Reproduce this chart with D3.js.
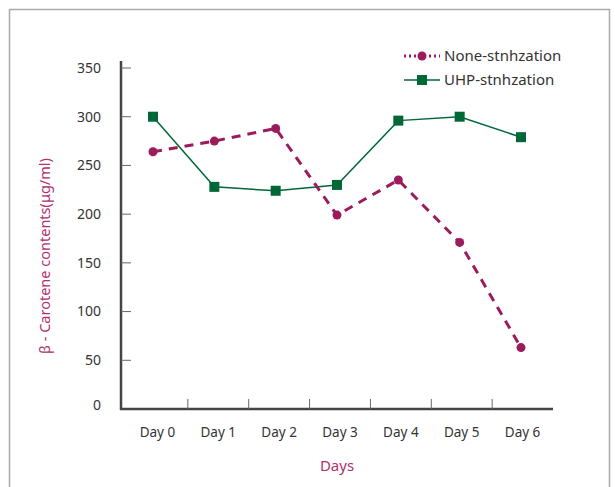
<!DOCTYPE html>
<html>
<head>
<meta charset="utf-8">
<script src="https://cdn.jsdelivr.net/npm/d3@7"></script>
<style>
  body { margin: 0; background: #fff; }
  text { font-family: "Noto Sans", "Noto Sans CJK KR", sans-serif; }
</style>
</head>
<body>
<svg id="chart" width="615" height="487"></svg>
<script>
// data
const days = ["Day 0", "Day 1", "Day 2", "Day 3", "Day 4", "Day 5", "Day 6"];
const noneValues = [264, 275, 288, 199, 235, 171, 63];
const uhpValues = [300, 228, 224, 230, 296, 300, 279];
const yTicks = [0, 50, 100, 150, 200, 250, 300, 350];

const purple = "#9b1b5c", green = "#006837";

const svg = d3.select("#chart");

// outer frame
svg.append("rect")
  .attr("x", 9.5).attr("y", 9.5)
  .attr("width", 600).attr("height", 500)
  .attr("fill", "none")
  .attr("stroke", "#aaa")
  .attr("stroke-width", 1.5);

// scales
const y = d3.scaleLinear().domain([0, 350]).range([409, 68]);
const xBand = d3.scaleBand().domain(days).range([127, 553]);
const x = d3.scalePoint().domain(days).range([153, 521]);

// y axis
const yAxis = svg.append("g").attr("transform", "translate(121,0)");
yAxis.append("line")
  .attr("x1", 0).attr("x2", 0)
  .attr("y1", 61).attr("y2", 410)
  .attr("stroke", "#444").attr("stroke-width", 2.5);
yAxis.selectAll(".tick").data(yTicks.filter(d => d > 0)).join("line")
  .attr("x1", 0).attr("x2", 10)
  .attr("y1", d => y(d)).attr("y2", d => y(d))
  .attr("stroke", "#666").attr("stroke-width", 1);
yAxis.selectAll(".lbl").data(yTicks).join("text")
  .attr("x", -20)
  .attr("y", d => d === 0 ? y(d) - 4 : y(d))
  .attr("dy", "0.35em")
  .attr("text-anchor", "end")
  .attr("font-size", 14)
  .attr("fill", "#333")
  .text(d => d);

// x axis
const xAxis = svg.append("g").attr("transform", "translate(0,409)");
xAxis.append("line")
  .attr("x1", 120).attr("x2", 553)
  .attr("y1", 0).attr("y2", 0)
  .attr("stroke", "#444").attr("stroke-width", 2.5);
xAxis.selectAll(".tick").data(days.slice(1)).join("line")
  .attr("x1", d => xBand(d)).attr("x2", d => xBand(d))
  .attr("y1", 0).attr("y2", -10)
  .attr("stroke", "#666").attr("stroke-width", 1);
xAxis.selectAll(".lbl").data(days).join("text")
  .attr("x", d => xBand(d) + xBand.bandwidth() / 2)
  .attr("y", 28)
  .attr("text-anchor", "middle")
  .attr("font-size", 13.5)
  .attr("fill", "#333")
  .text(d => d);

// axis titles
svg.append("text")
  .attr("x", 337).attr("y", 471)
  .attr("text-anchor", "middle")
  .attr("font-size", 15)
  .attr("fill", "#b0306e")
  .text("Days");

svg.append("text")
  .attr("transform", "translate(50,256) rotate(-90)")
  .attr("text-anchor", "middle")
  .attr("font-size", 14.5)
  .attr("fill", "#b0306e")
  .text("β - Carotene contents(μg/ml)");

// lines
const line = d3.line()
  .x((d, i) => x(days[i]))
  .y(d => y(d));

svg.append("path")
  .datum(uhpValues)
  .attr("fill", "none")
  .attr("stroke", green)
  .attr("stroke-width", 1.5)
  .attr("d", line);

svg.append("path")
  .datum(noneValues)
  .attr("fill", "none")
  .attr("stroke", purple)
  .attr("stroke-width", 3)
  .attr("stroke-dasharray", "9,7")
  .attr("d", line);

svg.selectAll(".sq").data(uhpValues).join("rect")
  .attr("x", (d, i) => x(days[i]) - 5)
  .attr("y", d => y(d) - 5)
  .attr("width", 10).attr("height", 10)
  .attr("fill", green);

svg.selectAll(".dot").data(noneValues).join("circle")
  .attr("cx", (d, i) => x(days[i]))
  .attr("cy", d => y(d))
  .attr("r", 4.5)
  .attr("fill", purple);

// legend
const legend = svg.append("g").attr("transform", "translate(404,56)");
legend.append("line")
  .attr("x1", 0).attr("x2", 36).attr("y1", 0).attr("y2", 0)
  .attr("stroke", purple).attr("stroke-width", 3)
  .attr("stroke-dasharray", "2,3");
legend.append("circle").attr("cx", 18).attr("cy", 0).attr("r", 4.5).attr("fill", purple);
legend.append("text")
  .attr("x", 40).attr("y", 0).attr("dy", "0.35em")
  .attr("font-size", 15).attr("fill", "#333")
  .text("None-stnhzation");

legend.append("line")
  .attr("x1", 0).attr("x2", 36).attr("y1", 24).attr("y2", 24)
  .attr("stroke", green).attr("stroke-width", 1.5);
legend.append("rect").attr("x", 13).attr("y", 19).attr("width", 10).attr("height", 10).attr("fill", green);
legend.append("text")
  .attr("x", 40).attr("y", 24).attr("dy", "0.35em")
  .attr("font-size", 15).attr("fill", "#333")
  .text("UHP-stnhzation");
</script>
</body>
</html>
